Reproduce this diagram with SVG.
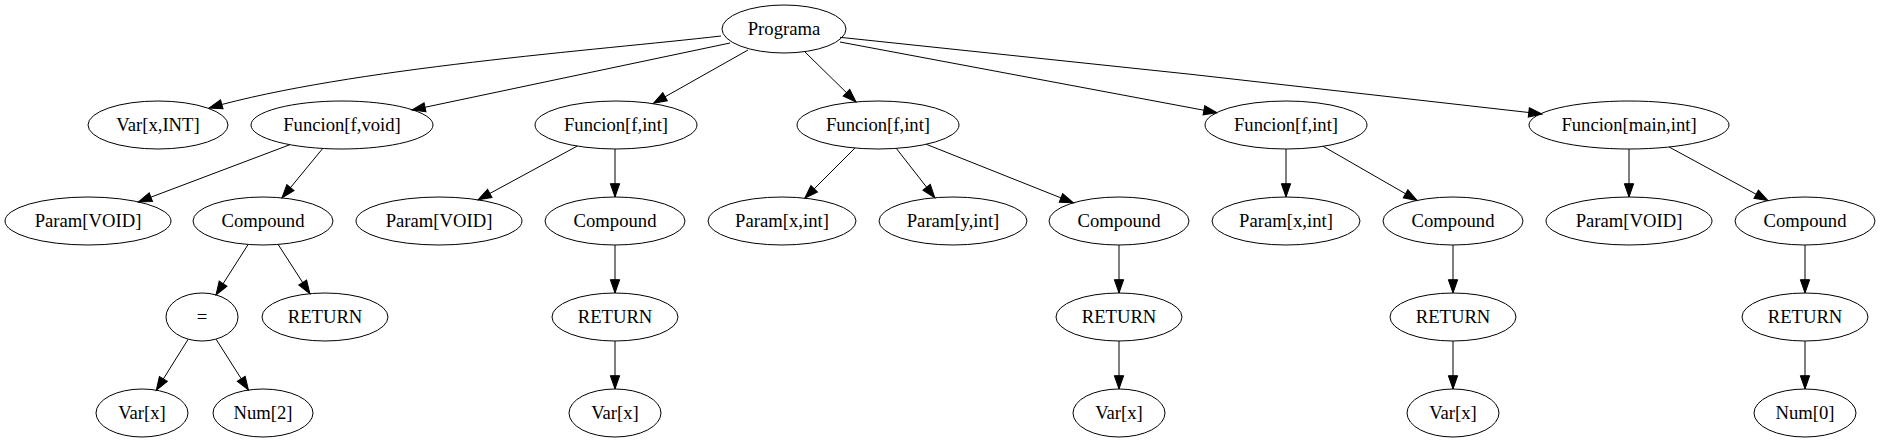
<svg xmlns="http://www.w3.org/2000/svg" width="1880" height="443" viewBox="0 0 1880 443">
<defs>
<style>
.n ellipse{fill:none;stroke:#000;stroke-width:1}
.n text{font-family:"Liberation Serif","Times New Roman",serif;font-size:18.67px;text-anchor:middle;fill:#000}
#edges path{fill:none;stroke:#000;stroke-width:1;marker-end:url(#arr)}
</style>
<marker id="arr" markerUnits="userSpaceOnUse" markerWidth="16" markerHeight="12" viewBox="-1 -6 16 12" refX="13.3" refY="0" orient="auto">
<path d="M0,-4.67 L13.3,0 L0,4.67 Z" fill="#000" stroke="#000" stroke-width="1"/>
</marker>
</defs>
<rect width="1880" height="443" fill="#fff"/>
<g id="edges">
<path d="M721,36 C600,50 350,68 209,108"/>
<path d="M730,43 L412,110"/>
<path d="M748,50 L653.5,103.3"/>
<path d="M805,52 L856,102"/>
<path d="M840,42 L1217,112.7"/>
<path d="M840,37.3 Q1191,73 1542,114"/>
<path d="M289.9,144.7 L138.4,201.9"/>
<path d="M322.7,148.5 L282,197.9"/>
<path d="M577.2,146.1 L478.1,199.8"/>
<path d="M615,149 L615,197"/>
<path d="M855,148 L804.8,198.2"/>
<path d="M896.3,148.4 L934.8,197.7"/>
<path d="M926.3,144.3 L1073.3,202.8"/>
<path d="M1286,149 L1286,197"/>
<path d="M1323.1,146.3 L1417.1,200.4"/>
<path d="M1629,149 L1629,197"/>
<path d="M1669.1,147 L1767.9,200.6"/>
<path d="M248.1,244.5 L216,294.9"/>
<path d="M278.1,244.4 L309.9,293.7"/>
<path d="M615,245 L615,293"/>
<path d="M1119,245 L1119,293"/>
<path d="M1453,245 L1453,293"/>
<path d="M1805,245 L1805,293"/>
<path d="M188.2,339.2 L156.3,390.2"/>
<path d="M216,339.1 L248.4,390"/>
<path d="M615,341 L615,389"/>
<path d="M1119,341 L1119,389"/>
<path d="M1453,341 L1453,389"/>
<path d="M1805,341 L1805,389"/>
</g>
<g id="prog" class="n"><ellipse cx="784" cy="29" rx="62" ry="24"/><text x="784" y="35">Programa</text></g>
<g id="var" class="n"><ellipse cx="158" cy="125" rx="70" ry="24"/><text x="158" y="131">Var[x,INT]</text></g>
<g id="f1" class="n"><ellipse cx="342" cy="125" rx="91" ry="24"/><text x="342" y="131">Funcion[f,void]</text></g>
<g id="f2" class="n"><ellipse cx="616" cy="125" rx="81" ry="24"/><text x="616" y="131">Funcion[f,int]</text></g>
<g id="f3" class="n"><ellipse cx="878" cy="125" rx="81" ry="24"/><text x="878" y="131">Funcion[f,int]</text></g>
<g id="f4" class="n"><ellipse cx="1286" cy="125" rx="81" ry="24"/><text x="1286" y="131">Funcion[f,int]</text></g>
<g id="f5" class="n"><ellipse cx="1629" cy="125" rx="100" ry="24"/><text x="1629" y="131">Funcion[main,int]</text></g>
<g id="p1" class="n"><ellipse cx="88" cy="221" rx="83" ry="24"/><text x="88" y="227">Param[VOID]</text></g>
<g id="c1" class="n"><ellipse cx="263" cy="221" rx="70" ry="24"/><text x="263" y="227">Compound</text></g>
<g id="p2" class="n"><ellipse cx="439" cy="221" rx="83" ry="24"/><text x="439" y="227">Param[VOID]</text></g>
<g id="c2" class="n"><ellipse cx="615" cy="221" rx="70" ry="24"/><text x="615" y="227">Compound</text></g>
<g id="p3" class="n"><ellipse cx="782" cy="221" rx="74" ry="24"/><text x="782" y="227">Param[x,int]</text></g>
<g id="p4" class="n"><ellipse cx="953" cy="221" rx="74" ry="24"/><text x="953" y="227">Param[y,int]</text></g>
<g id="c3" class="n"><ellipse cx="1119" cy="221" rx="70" ry="24"/><text x="1119" y="227">Compound</text></g>
<g id="p5" class="n"><ellipse cx="1286" cy="221" rx="74" ry="24"/><text x="1286" y="227">Param[x,int]</text></g>
<g id="c4" class="n"><ellipse cx="1453" cy="221" rx="70" ry="24"/><text x="1453" y="227">Compound</text></g>
<g id="p6" class="n"><ellipse cx="1629" cy="221" rx="83" ry="24"/><text x="1629" y="227">Param[VOID]</text></g>
<g id="c5" class="n"><ellipse cx="1805" cy="221" rx="70" ry="24"/><text x="1805" y="227">Compound</text></g>
<g id="eq" class="n"><ellipse cx="202" cy="317" rx="36" ry="24"/><text x="202" y="323">=</text></g>
<g id="r1" class="n"><ellipse cx="325" cy="317" rx="63" ry="24"/><text x="325" y="323">RETURN</text></g>
<g id="r2" class="n"><ellipse cx="615" cy="317" rx="63" ry="24"/><text x="615" y="323">RETURN</text></g>
<g id="r3" class="n"><ellipse cx="1119" cy="317" rx="63" ry="24"/><text x="1119" y="323">RETURN</text></g>
<g id="r4" class="n"><ellipse cx="1453" cy="317" rx="63" ry="24"/><text x="1453" y="323">RETURN</text></g>
<g id="r5" class="n"><ellipse cx="1805" cy="317" rx="63" ry="24"/><text x="1805" y="323">RETURN</text></g>
<g id="v1" class="n"><ellipse cx="142" cy="413" rx="46" ry="24"/><text x="142" y="419">Var[x]</text></g>
<g id="n2" class="n"><ellipse cx="263" cy="413" rx="50" ry="24"/><text x="263" y="419">Num[2]</text></g>
<g id="v2" class="n"><ellipse cx="615" cy="413" rx="46" ry="24"/><text x="615" y="419">Var[x]</text></g>
<g id="v3" class="n"><ellipse cx="1119" cy="413" rx="46" ry="24"/><text x="1119" y="419">Var[x]</text></g>
<g id="v4" class="n"><ellipse cx="1453" cy="413" rx="46" ry="24"/><text x="1453" y="419">Var[x]</text></g>
<g id="n0" class="n"><ellipse cx="1805" cy="413" rx="51" ry="24"/><text x="1805" y="419">Num[0]</text></g>
</svg>
